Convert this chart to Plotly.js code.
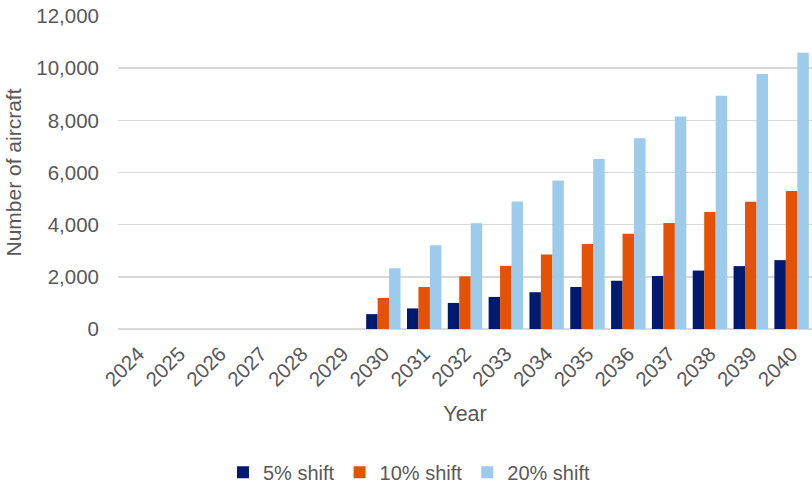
<!DOCTYPE html>
<html>
<head>
<meta charset="utf-8">
<script src="https://cdn.plot.ly/plotly-3.0.1.min.js"></script>
<style>html,body{margin:0;padding:0;background:#fff;}#chart{width:812px;height:487px;}</style>
</head>
<body>
<div id="chart"></div>
<script>
const years = ['2024','2025','2026','2027','2028','2029','2030','2031','2032','2033','2034','2035','2036','2037','2038','2039','2040'];
const shift5  = [0,0,0,0,0,0,570,790,1000,1230,1410,1610,1850,2030,2240,2410,2640];
const shift10 = [0,0,0,0,0,0,1190,1610,2020,2420,2860,3260,3650,4060,4490,4880,5290];
const shift20 = [0,0,0,0,0,0,2330,3210,4050,4890,5690,6520,7310,8150,8940,9780,10590];
const seriesNames = ['5% shift','10% shift','20% shift'];
const colors = ['#001A70','#E35205','#9DCBEB'];

const traces = [shift5, shift10, shift20].map((v,i)=>({
  type:'bar', x:years, y:v, name:seriesNames[i],
  marker:{color:colors[i], line:{width:0}},
  hoverinfo:'x+y'
}));

const FS = 20.5;
const layout = {
  width:812, height:487,
  margin:{l:118, r:0, t:16, b:157.5, autoexpand:false},
  paper_bgcolor:'#fff', plot_bgcolor:'#fff',
  font:{family:'"Liberation Sans", Arial, sans-serif', size:FS, color:'#595959'},
  barmode:'group', bargap:0.157, bargroupgap:0,
  xaxis:{
    type:'category', tickangle:-45, showgrid:false, showline:false, ticks:'',
    ticklabelstandoff:8, automargin:false,
    tickfont:{size:FS, color:'#595959'},
    title:{text:'Year', font:{size:FS+1, color:'#595959'}, standoff:16}
  },
  yaxis:{
    range:[0,12000], dtick:2000, tickformat:',d', automargin:false,
    showgrid:true, gridcolor:'#D9D9D9', gridwidth:1.5,
    zeroline:true, zerolinecolor:'#D9D9D9', zerolinewidth:1.8,
    ticks:'', ticklabelstandoff:18,
    tickfont:{size:FS, color:'#595959'},
    title:{text:'Number of aircraft', font:{size:FS+0.5, color:'#595959'}, standoff:8}
  },
  legend:{orientation:'h', xref:'paper', yref:'paper', x:0.42, xanchor:'center', y:-0.458, yanchor:'middle',
    font:{size:20, color:'#595959'}, itemwidth:30, traceorder:'normal'},
  showlegend:true
};

Plotly.newPlot('chart', traces, layout, {displayModeBar:false, staticPlot:true});
</script>
</body>
</html>
